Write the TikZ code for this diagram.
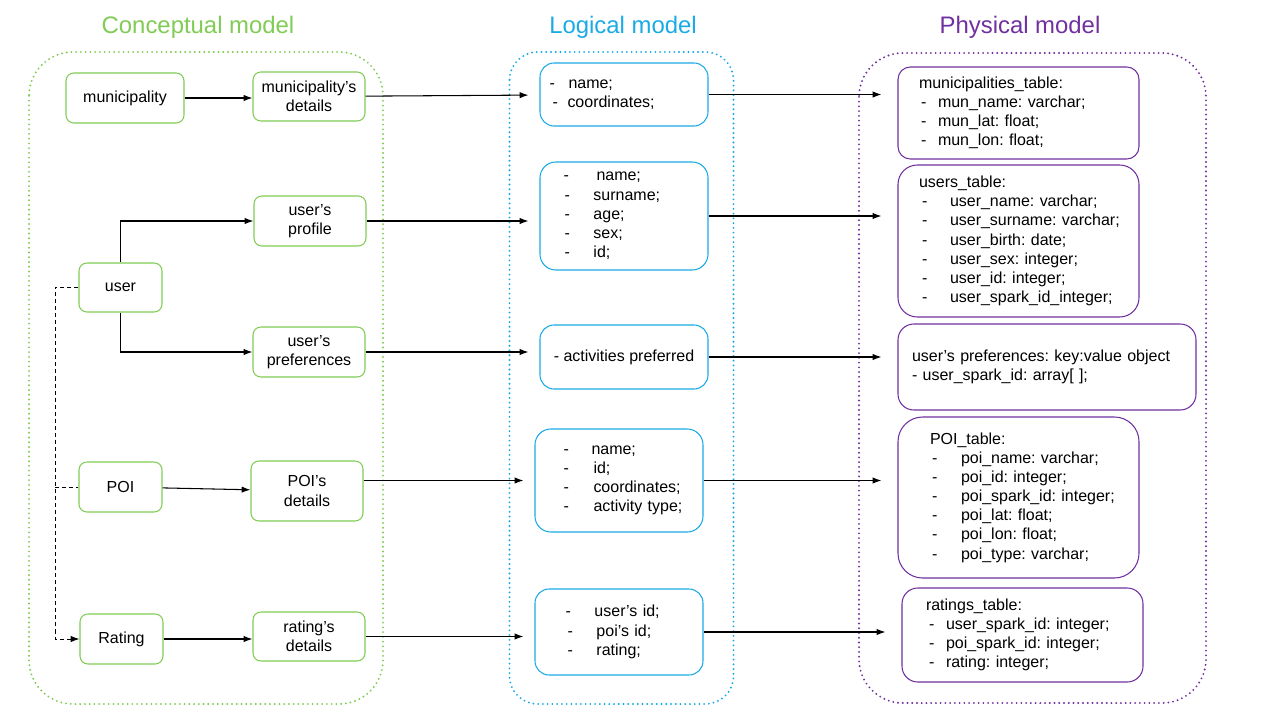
\documentclass[tikz,border=0pt]{standalone}
\usepackage{fontspec}
\setmainfont{Liberation Sans}
\usepackage{tikz}
\usetikzlibrary{arrows.meta,positioning,calc}
\frenchspacing

\definecolor{cgreen}{RGB}{128,204,84}
\definecolor{lblue}{RGB}{26,170,230}
\definecolor{ppurple}{RGB}{112,48,160}

\newdimen\upx \upx=0.02cm
\newcommand{\boxfont}{\fontsize{9.1pt}{10.9pt}\selectfont}
\newcommand{\itm}[3]{\mbox{\makebox[#2\upx][l]{\hspace*{#1\upx}-}#3}}

\begin{document}
\begin{tikzpicture}[x=0.02cm, y=-0.02cm, font=\boxfont,
    cbox/.style={draw=cgreen, line width=0.6pt, rounded corners=4.5pt, align=center, inner sep=1pt},
    lbox/.style={draw=lblue, line width=0.6pt, rounded corners=8pt, align=left, inner ysep=1pt},
    pbox/.style={draw=ppurple, line width=0.6pt, rounded corners=8pt, align=left, inner ysep=1pt},
    title/.style={font=\fontsize{13.6pt}{16pt}\selectfont},
    frame/.style={line width=1.2pt, dash pattern=on 0pt off 2.7pt, line cap=round, rounded corners=25pt},
    arr/.style={-{Latex[length=5pt,width=3.6pt]}, line width=0.6pt},
    dsh/.style={dash pattern=on 2.3pt off 1.7pt, line width=0.5pt}]

    \useasboundingbox (0,0) rectangle (1280,720);

    % titles
    \node[title, text=cgreen] (CT) at (198,27) {Conceptual model};
    \node[title, text=lblue] (LT) at (623,27) {Logical model};
    \node[title, text=ppurple] (PT) at (1020,27) {Physical model};

    % dotted frames
    \draw[frame, cgreen] (29,52) rectangle (383,704);
    \draw[frame, lblue, rounded corners=16pt] (509.5,52) rectangle (733.5,704);
    \draw[frame, ppurple] (859,53) rectangle (1206,703);

    % conceptual model
    \node[cbox, minimum width=118\upx, minimum height=50\upx] (MUN) at (125,98) {municipality};
    \node[cbox, minimum width=112\upx, minimum height=49\upx] (MUND) at (309,96.5) {municipality’s\\details};
    \node[cbox, minimum width=112\upx, minimum height=50\upx] (UPRF) at (310,221) {user’s\\profile};
    \node[cbox, minimum width=83\upx, minimum height=49\upx] (USR) at (120.5,287.5) {user};
    \node[cbox, minimum width=112\upx, minimum height=50\upx] (UPRE) at (309,352) {user’s\\preferences};
    \node[cbox, minimum width=83\upx, minimum height=50\upx] (POI) at (120.5,487) {POI};
    \node[cbox, minimum width=112\upx, minimum height=60\upx] (POID) at (307,491) {POI’s\\details};
    \node[cbox, minimum width=83\upx, minimum height=50\upx] (RAT) at (121.5,639) {Rating};
    \node[cbox, minimum width=112\upx, minimum height=49\upx] (RATD) at (309,636.5) {rating’s\\details};

    % logical model
    \node[lbox, minimum width=168\upx, minimum height=63\upx, inner xsep=9.5\upx, text width=149\upx] (L1) at (624,94.5)
        {\itm{0}{19}{name;}\\\itm{3}{18}{coordinates;}};
    \node[lbox, rounded corners=9pt, minimum width=168\upx, minimum height=108\upx, inner xsep=23.4\upx, text width=121\upx] (L2) at (624,216)
        {\itm{0}{33}{name;}\\\itm{1}{30}{surname;}\\\itm{1}{30}{age;}\\\itm{1}{30}{sex;}\\\itm{1}{30}{id;}};
    \node[lbox, align=center, minimum width=168\upx, minimum height=64\upx] (L3) at (624,357) {- activities preferred};
    \node[lbox, rounded corners=9pt, minimum width=168\upx, minimum height=103\upx, inner xsep=28.4\upx, text width=111\upx] (L4) at (619,480.5)
        {\itm{0}{28}{name;}\\\itm{0}{30}{id;}\\\itm{0}{30}{coordinates;}\\\itm{0}{30}{activity type;}};
    \node[lbox, minimum width=168\upx, minimum height=86\upx, inner xsep=30.4\upx, text width=107\upx] (L5) at (619,632)
        {\itm{0}{29}{user’s id;}\\\itm{2}{31}{poi’s id;}\\\itm{2}{31}{rating;}};

    % physical model
    \node[pbox, rounded corners=7pt, minimum width=241\upx, minimum height=92\upx, inner xsep=21\upx, text width=199\upx] (P1) at (1018.5,113)
        {municipalities\_table:\\\itm{2}{19}{mun\_name: varchar;}\\\itm{2}{19}{mun\_lat: float;}\\\itm{2}{19}{mun\_lon: float;}};
    \node[pbox, rounded corners=11pt, minimum width=241\upx, minimum height=152\upx, inner xsep=21\upx, text width=199\upx] (P2) at (1018.5,241)
        {users\_table:\\\itm{3}{31}{user\_name: varchar;}\\\itm{3}{31}{user\_surname: varchar;}\\\itm{3}{31}{user\_birth: date;}\\
         \itm{3}{31}{user\_sex: integer;}\\\itm{3}{31}{user\_id: integer;}\\\itm{3}{31}{user\_spark\_id\_integer;}};
    \node[pbox, rounded corners=9pt, minimum width=298\upx, minimum height=86\upx, inner xsep=14\upx, text width=270\upx] (P3) at (1047,367)
        {user’s preferences: key:value object\\- user\_spark\_id: array[ ];};
    \node[pbox, rounded corners=14pt, minimum width=241\upx, minimum height=161\upx, inner xsep=32\upx, text width=177\upx] (P4) at (1018.5,497.5)
        {POI\_table:\\\itm{2}{31}{poi\_name: varchar;}\\\itm{2}{31}{poi\_id: integer;}\\\itm{2}{31}{poi\_spark\_id: integer;}\\
         \itm{2}{31}{poi\_lat: float;}\\\itm{2}{31}{poi\_lon: float;}\\\itm{2}{31}{poi\_type: varchar;}};
    \node[pbox, rounded corners=9pt, minimum width=241\upx, minimum height=94\upx, inner xsep=24\upx, text width=193\upx] (P5) at (1022.5,635)
        {ratings\_table:\\\itm{3}{20}{user\_spark\_id: integer;}\\\itm{3}{20}{poi\_spark\_id: integer;}\\\itm{3}{20}{rating: integer;}};

    % conceptual links
    \draw[arr] (MUN.east) -- (MUN.east -| MUND.west);
    \draw[arr] (USR.north) |- (UPRF.west);
    \draw[arr] (USR.south) |- (UPRE.west);
    \draw[arr] (POI) -- (POID);
    \draw[arr] (RAT.east) -- (RAT.east -| RATD.west);
    \coordinate (BUS) at (55,287.5);
    \draw[arr, dsh] (USR.west) -- (BUS) |- (RAT.west);
    \draw[dsh] (BUS |- POI.west) -- (POI.west);

    % conceptual -> logical
    \draw[arr, shorten >=11\upx] (MUND) -- (L1);
    \draw[arr, shorten >=11\upx] (UPRF.east) -- (UPRF.east -| L2.west);
    \draw[arr, shorten >=11\upx] (UPRE.east) -- (UPRE.east -| L3.west);
    \draw[arr, shorten >=11\upx] (POID.east |- L4.west) -- (L4.west);
    \draw[arr, shorten >=11\upx] (RATD.east) -- (RATD.east -| L5.west);

    % logical -> physical
    \draw[arr, shorten >=16\upx] (L1.east) -- (L1.east -| P1.west);
    \draw[arr, shorten >=16\upx] (L2.east) -- (L2.east -| P2.west);
    \draw[arr, shorten >=16\upx] (L3.east) -- (L3.east -| P3.west);
    \draw[arr, shorten >=16\upx] (L4.east) -- (L4.east -| P4.west);
    \draw[arr, shorten >=16\upx] (L5.east) -- (L5.east -| P5.west);

\end{tikzpicture}
\end{document}
